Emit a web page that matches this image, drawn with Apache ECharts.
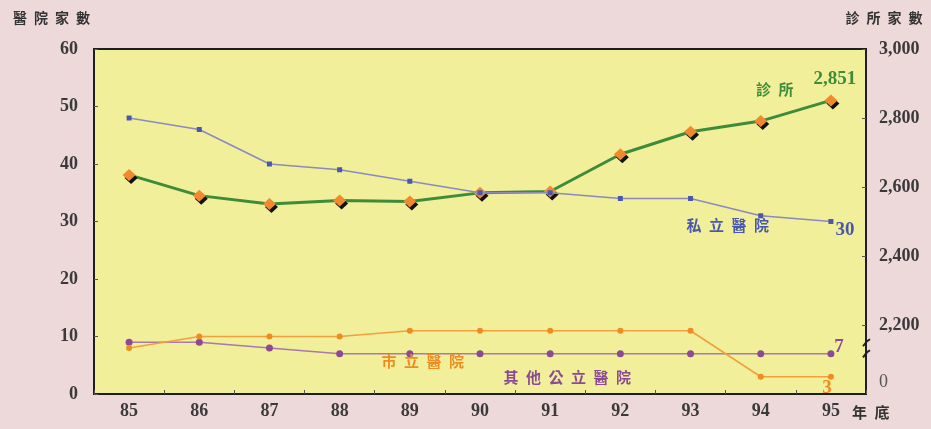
<!DOCTYPE html>
<html>
<head>
<meta charset="utf-8">
<script src="https://cdn.jsdelivr.net/npm/echarts@6/dist/echarts.min.js"></script>
<style>
  html, body { margin: 0; padding: 0; background: #EED9DA; }
  #chart { width: 931px; height: 429px; }
</style>
</head>
<body>
<div id="chart"></div>
<script>
// Year-end counts (ROC years 85–95)
const years = ['85', '86', '87', '88', '89', '90', '91', '92', '93', '94', '95'];
const privateHospitals = [48, 46, 40, 39, 37, 35, 35, 34, 34, 31, 30];
const municipalHospitals = [8, 10, 10, 10, 11, 11, 11, 11, 11, 3, 3];
const otherPublicHospitals = [9, 9, 8, 7, 7, 7, 7, 7, 7, 7, 7];
const clinics = [2635, 2575, 2551, 2561, 2558, 2583, 2587, 2695, 2760, 2791, 2851];

const leftTicks = [0, 10, 20, 30, 40, 50, 60];
const rightTicks = [2200, 2400, 2600, 2800, 3000];
const rightBase = 2000;           // bottom of the broken clinic axis, shown as "0"
const rightBreak = [2150, 2118];  // where the axis-break marks sit

const SERIF = '"Liberation Serif", "DejaVu Serif", serif';
const CJK = '"Noto Sans CJK TC", "Noto Sans CJK SC", sans-serif';
const SP = '\u2002';

const C_GREEN = '#3E8B3A';
const C_BLUE = '#4A58AC';
const C_ORANGE = '#EE8C22';
const C_PURPLE = '#8C4A94';

function spaced(s) { return s.split('').join(SP); }

// attach per-point labels to a value array
function withLabels(values, labels) {
  return values.map((v, i) => labels[i] ? { value: v, label: labels[i] } : v);
}
function nameLabel(text, color, offset) {
  return { show: true, position: 'inside', offset: offset, formatter: spaced(text),
           color: color, fontFamily: CJK, fontWeight: 'bold', fontSize: 15 };
}
function valueLabel(color, offset) {
  return { show: true, position: 'inside', offset: offset,
           formatter: p => Number(p.value).toLocaleString('en-US'),
           color: color, fontFamily: SERIF, fontWeight: 'bold', fontSize: 19 };
}

const last = years.length - 1;
const clinicLabels = {}; clinicLabels[last] = valueLabel(C_GREEN, [4, -21]);
clinicLabels[9] = nameLabel('診所', C_GREEN, [14, -32]);
const privateLabels = {}; privateLabels[last] = valueLabel(C_BLUE, [14, 9]);
privateLabels[9] = nameLabel('私立醫院', C_BLUE, [-33, 10]);
const municipalLabels = {}; municipalLabels[last] = valueLabel(C_ORANGE, [-4, 11]);
municipalLabels[4] = nameLabel('市立醫院', C_ORANGE, [13, 31]);
const otherLabels = {}; otherLabels[last] = valueLabel(C_PURPLE, [8, -7]);
otherLabels[6] = nameLabel('其他公立醫院', C_PURPLE, [17, 24]);

const axisLabelStyle = { color: '#3A3A3A', fontFamily: SERIF, fontWeight: 'bold', fontSize: 18 };
const axisLineStyle = { show: true, lineStyle: { color: '#1E1E1E', width: 2 } };

const chart = echarts.init(document.getElementById('chart'));
chart.setOption({
  backgroundColor: '#EED9DA',
  animation: false,
  grid: {
    left: 94, right: 65, top: 49, bottom: 35,
    show: true, backgroundColor: '#F1EF9A', borderColor: '#1E1E1E', borderWidth: 2,
    containLabel: false, outerBoundsMode: 'none'
  },
  xAxis: {
    type: 'category',
    data: years,
    boundaryGap: true,
    axisLine: axisLineStyle,
    axisTick: { show: true, inside: true, length: 4, alignWithLabel: false,
                lineStyle: { color: '#555', width: 1 } },
    axisLabel: Object.assign({ margin: 8 }, axisLabelStyle),
    name: spaced('年底'),
    nameLocation: 'end',
    nameGap: -14,
    nameTextStyle: { color: '#333', fontFamily: CJK, fontSize: 15, fontWeight: 'bold',
                     align: 'left', verticalAlign: 'top', padding: [11, 0, 0, 0] }
  },
  yAxis: [
    {
      type: 'value', position: 'left',
      min: leftTicks[0], max: leftTicks[leftTicks.length - 1], interval: 10,
      axisLine: axisLineStyle,
      axisTick: { show: true, inside: true, length: 4, lineStyle: { color: '#555' } },
      splitLine: { show: false },
      axisLabel: Object.assign({ margin: 16 }, axisLabelStyle),
      name: spaced('醫院家數'),
      nameLocation: 'end',
      nameGap: 31,
      nameTextStyle: { color: '#333', fontFamily: CJK, fontSize: 14, fontWeight: 'bold',
                       align: 'right', verticalAlign: 'middle', padding: [0, 4, 0, 0] }
    },
    {
      type: 'value', position: 'right',
      min: rightBase, max: rightTicks[rightTicks.length - 1], interval: 200,
      axisLine: axisLineStyle,
      axisTick: { show: true, inside: true, length: 4, customValues: rightTicks,
                  lineStyle: { color: '#555' } },
      splitLine: { show: false },
      axisLabel: Object.assign({
        margin: 13,
        formatter: v => v === rightBase ? '{z|0}' : Number(v).toLocaleString('en-US'),
        rich: { z: { fontFamily: SERIF, fontSize: 18, fontWeight: 'normal', color: '#555',
                     padding: [0, 0, 24, 0] } }
      }, axisLabelStyle),
      name: spaced('診所家數'),
      nameLocation: 'end',
      nameGap: 31,
      nameTextStyle: { color: '#333', fontFamily: CJK, fontSize: 14, fontWeight: 'bold',
                       align: 'center', verticalAlign: 'middle', padding: [0, 0, 0, 36] }
    }
  ],
  series: [
    {
      name: '其他公立醫院', type: 'line', yAxisIndex: 0,
      data: withLabels(otherPublicHospitals, otherLabels),
      symbol: 'circle', symbolSize: 7,
      lineStyle: { color: '#A878B0', width: 1.6 },
      itemStyle: { color: C_PURPLE }, z: 2
    },
    {
      name: '市立醫院', type: 'line', yAxisIndex: 0,
      data: withLabels(municipalHospitals, municipalLabels),
      symbol: 'circle', symbolSize: 6,
      lineStyle: { color: '#F2A03E', width: 1.6 },
      itemStyle: { color: C_ORANGE }, z: 3
    },
    {
      name: '診所', type: 'line', yAxisIndex: 1,
      data: withLabels(clinics, clinicLabels),
      symbol: 'diamond', symbolSize: [13, 12],
      lineStyle: { color: C_GREEN, width: 3 },
      itemStyle: { color: '#F08A2C', shadowColor: '#111', shadowOffsetX: 2, shadowOffsetY: 3,
                   shadowBlur: 0 },
      z: 4
    },
    {
      name: '私立醫院', type: 'line', yAxisIndex: 0,
      data: withLabels(privateHospitals, privateLabels),
      symbol: 'rect', symbolSize: 5,
      lineStyle: { color: '#8C88C2', width: 1.6 },
      itemStyle: { color: C_BLUE }, z: 5
    }
  ]
});

// break marks on the clinic axis
const axisX = chart.getWidth() - 65;
const marks = rightBreak.map(v => {
  const y = chart.convertToPixel({ yAxisIndex: 1 }, v);
  return {
    type: 'polyline',
    shape: { points: [[axisX - 3, y + 4], [axisX + 1, y - 1], [axisX + 4, y - 3]] },
    style: { stroke: '#1E1E1E', lineWidth: 2, fill: null },
    z: 10
  };
});
chart.setOption({ graphic: marks });
</script>
</body>
</html>
